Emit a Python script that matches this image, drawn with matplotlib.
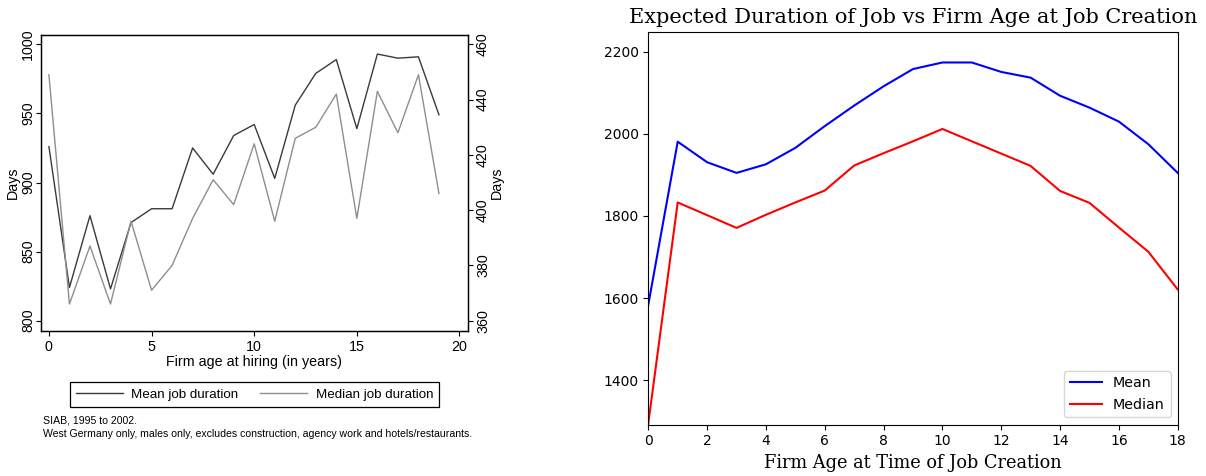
import matplotlib.pyplot as plt
import numpy as np

# left panel: SIAB, firm age at hiring
age_hiring = np.arange(20)
mean_job = [926, 824, 876, 823, 871, 881, 881, 925, 906, 934,
            942, 903, 956, 979, 989, 939, 993, 990, 991, 949]
median_job = [449, 366, 387, 366, 396, 371, 380, 397, 411, 402,
              424, 396, 426, 430, 442, 397, 443, 428, 449, 406]

# right panel: expected duration vs firm age at job creation
firm_age = np.arange(19)
mean_dur = [1584, 1981, 1931, 1905, 1926, 1966, 2019, 2069, 2116, 2158,
            2174, 2174, 2151, 2137, 2093, 2064, 2030, 1975, 1905]
median_dur = [1295, 1833, 1802, 1771, 1803, 1833, 1862, 1923, 1953, 1982,
              2012, 1982, 1952, 1922, 1861, 1832, 1772, 1713, 1621]

W, H = 1206, 476
fig = plt.figure(figsize=(W / 100, H / 100), dpi=100)

# ---- left (Stata style) ----
sfont = 'Liberation Sans'
ax1 = fig.add_axes([40.7 / W, 1 - 331 / H, 427 / W, 296.3 / H])
ax2 = ax1.twinx()
l1, = ax1.plot(age_hiring, mean_job, color='#3a3a3a', lw=1.0)
l2, = ax2.plot(age_hiring, median_job, color='#8e8e8e', lw=1.0)
ax1.set_xlim(-0.4, 20.4)
ax1.set_ylim(792.5, 1007)
ax2.set_ylim(356.25, 463.5)
ax1.set_xticks([0, 5, 10, 15, 20])
ax1.set_yticks([800, 850, 900, 950, 1000])
ax2.set_yticks([360, 380, 400, 420, 440, 460])
for a in (ax1, ax2):
    for s in a.spines.values():
        s.set_color('black')
        s.set_linewidth(0.9)
    a.tick_params(length=3.5, width=0.8, pad=3, labelsize=10.3)
ax1.tick_params(axis='y', pad=0.5)
ax2.tick_params(axis='y', pad=2.5)
for lab in ax1.get_yticklabels() + ax2.get_yticklabels():
    lab.set_rotation(90)
    lab.set_va('center')
    lab.set_family(sfont)
for lab in ax1.get_xticklabels():
    lab.set_family(sfont)
ax1.set_ylabel('Days', family=sfont, fontsize=10.3, labelpad=1)
ax2.set_ylabel('Days', family=sfont, fontsize=10.3, labelpad=0)
ax1.set_xlabel('Firm age at hiring (in years)', family=sfont, fontsize=10.3, labelpad=1)

leg = ax1.legend([l1, l2], ['Mean job duration', 'Median job duration'],
                 loc='center', bbox_to_anchor=(254.6 / W, 1 - 394.5 / H),
                 bbox_transform=fig.transFigure, ncol=2, fancybox=False,
                 edgecolor='black', framealpha=1, handlelength=3.5,
                 handletextpad=0.65, columnspacing=1.65, borderpad=0.45,
                 prop={'family': sfont, 'size': 9.6})
leg.get_frame().set_linewidth(0.9)

fig.text(43 / W, 1 - 420.7 / H, 'SIAB, 1995 to 2002.', family=sfont,
         fontsize=7.6, va='center')
fig.text(43 / W, 1 - 434.3 / H,
         'West Germany only, males only, excludes construction, agency work and hotels/restaurants.',
         family=sfont, fontsize=7.6, va='center')

# ---- right (matplotlib default style) ----
ax = fig.add_axes([648.3 / W, 1 - 424.5 / H, 529.4 / W, 392.8 / H])
ax.plot(firm_age, mean_dur, color='blue', label='Mean')
ax.plot(firm_age, median_dur, color='red', label='Median')
ax.set_xlim(0, 18)
ax.set_ylim(1292, 2249)
ax.set_xticks(np.arange(0, 19, 2))
ax.set_yticks([1400, 1600, 1800, 2000, 2200])
ax.set_title('Expected Duration of Job vs Firm Age at Job Creation',
             family='DejaVu Serif', fontsize=15)
ax.set_xlabel('Firm Age at Time of Job Creation', family='DejaVu Serif', fontsize=12.8)
ax.legend(loc='lower right', fontsize=10.3, handlelength=2.2)

fig.savefig('out.png', dpi=100)
